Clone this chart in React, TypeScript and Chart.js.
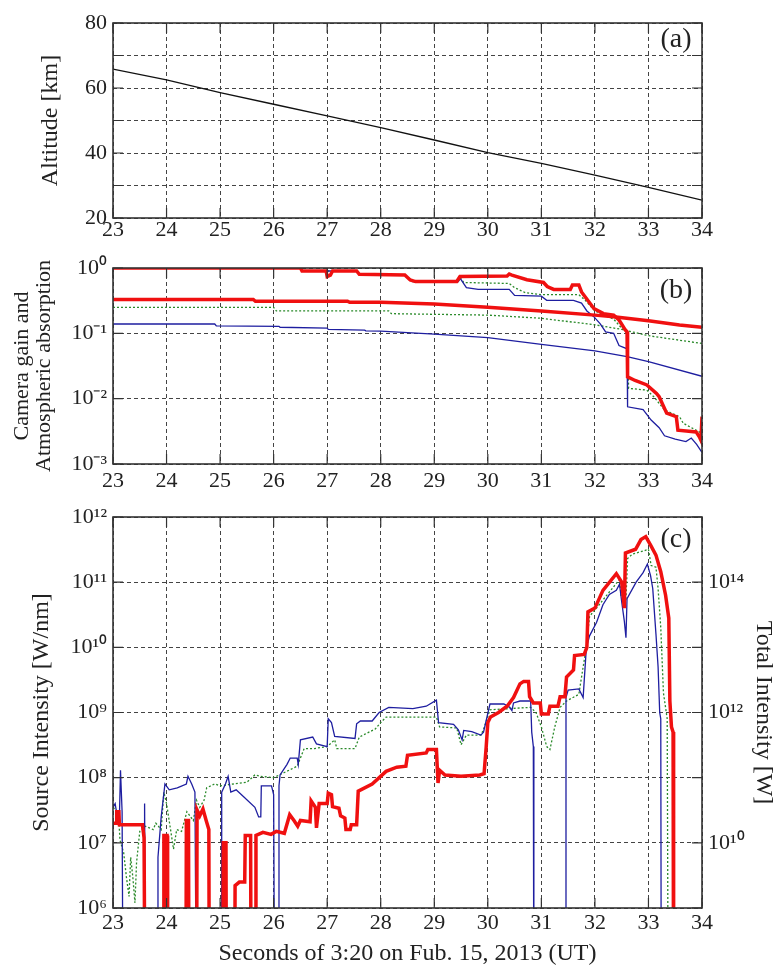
import React, { useEffect, useRef } from 'react';
import { Chart, registerables } from 'chart.js';

Chart.register(...registerables);

const FONT = '"Liberation Serif", "Times New Roman", serif';
const TEXT = '#222';

// ---------- shared x axis ----------
const xTickValues = [23, 24, 25, 26, 27, 28, 29, 30, 31, 32, 33, 34];
const xTitle = 'Seconds of 3:20 on Fub. 15, 2013 (UT)';

// ---------- panel (a) ----------
const altTime = [23, 24, 25, 26, 27, 28, 29, 30, 31, 32, 33, 34];
const altitudeKm = [65.8, 62.5, 58.6, 55.0, 51.4, 47.8, 44.0, 40.1, 36.8, 33.2, 29.4, 25.5];
const altTickValues = [20, 30, 40, 50, 60, 70, 80];
const altTickLabels = ['20', '', '40', '', '60', '', '80'];

// ---------- panel (b) ----------
const bTickValues = [1e-3, 1e-2, 1e-1, 1];
const bTickLabels = ['10⁻³', '10⁻²', '10⁻¹', '10⁰'];

const redGainT = [23, 26.5, 26.53, 26.98, 27.0, 27.06, 27.1, 27.55, 27.6, 28.45, 28.55, 28.65, 29.42, 29.48, 30.36, 30.4, 30.45, 30.73, 31.04, 31.11, 31.23, 31.54, 31.58, 31.7, 31.75, 31.82, 31.98, 32.16, 32.35, 32.45, 32.57, 32.6, 32.61, 32.75, 32.97, 33.15, 33.2, 33.34, 33.52, 33.55, 33.89, 33.95, 33.98, 34.0];
const redGainV = [1.0, 1.0, 0.9, 0.9, 0.74, 0.78, 0.9, 0.9, 0.8, 0.78, 0.655, 0.62, 0.62, 0.74, 0.755, 0.81, 0.78, 0.66, 0.6, 0.52, 0.47, 0.47, 0.55, 0.55, 0.43, 0.36, 0.24, 0.2, 0.19, 0.16, 0.112, 0.106, 0.0216, 0.019, 0.0162, 0.012, 0.0107, 0.006, 0.0053, 0.0033, 0.0031, 0.0026, 0.0023, 0.0053];

const blueGainT = [23, 26.5, 26.53, 27.55, 27.6, 28.45, 28.6, 29.45, 29.48, 29.6, 29.82, 30.4, 30.5, 31.0, 31.1, 31.6, 31.75, 31.85, 31.98, 32.1, 32.2, 32.35, 32.45, 32.6, 32.61, 32.9, 33.05, 33.2, 33.3, 33.5, 33.7, 33.8, 33.9, 34.0];
const blueGainV = [1.0, 1.0, 0.9, 0.9, 0.8, 0.78, 0.62, 0.62, 0.7, 0.5, 0.47, 0.47, 0.38, 0.37, 0.32, 0.32, 0.29, 0.22, 0.18, 0.14, 0.105, 0.1, 0.065, 0.058, 0.0075, 0.0068, 0.0047, 0.0036, 0.0027, 0.0024, 0.0022, 0.0025, 0.002, 0.0015];

const greenGainT = [23, 26.5, 26.53, 27.55, 27.6, 28.45, 28.6, 29.45, 29.48, 29.55, 30.4, 30.5, 30.7, 31.0, 31.7, 31.82, 32.0, 32.16, 32.35, 32.5, 32.6, 32.63, 32.97, 33.1, 33.3, 33.58, 33.65, 33.95, 34.0];
const greenGainV = [1.0, 1.0, 0.9, 0.9, 0.8, 0.78, 0.62, 0.62, 0.72, 0.6, 0.58, 0.5, 0.42, 0.39, 0.39, 0.32, 0.22, 0.19, 0.165, 0.12, 0.1, 0.0144, 0.0135, 0.0107, 0.0067, 0.0053, 0.0042, 0.0031, 0.0029];

const redAtmT = [23, 25.62, 25.66, 27.38, 27.42, 28, 29, 30, 31, 32, 32.35, 33, 33.58, 34];
const redAtmV = [0.33, 0.33, 0.31, 0.31, 0.298, 0.3, 0.28, 0.25, 0.22, 0.19, 0.18, 0.156, 0.134, 0.124];

const blueAtmT = [23, 24.9, 24.93, 26.1, 26.12, 27.0, 27.02, 27.7, 27.72, 28, 29, 30, 31, 32, 32.6, 33, 34];
const blueAtmV = [0.139, 0.139, 0.13, 0.128, 0.124, 0.12, 0.115, 0.112, 0.109, 0.108, 0.097, 0.086, 0.068, 0.054, 0.044, 0.037, 0.022];

const greenAtmT = [23, 26.0, 26.05, 28.15, 28.2, 30, 31, 32, 32.5, 33, 34];
const greenAtmV = [0.25, 0.25, 0.22, 0.22, 0.2, 0.19, 0.17, 0.135, 0.115, 0.092, 0.07];

// ---------- panel (c) ----------
const cTickValues = [1e6, 1e7, 1e8, 1e9, 1e10, 1e11, 1e12];
const cTickLabels = ['10⁶', '10⁷', '10⁸', '10⁹', '10¹⁰', '10¹¹', '10¹²'];
const totalTickValues = [1e10, 1e12, 1e14];
const totalTickLabels = ['10¹⁰', '10¹²', '10¹⁴'];

const redSrcT = [23.0, 23.06, 23.07, 23.11, 23.12, 23.55, 23.58, 23.6, 23.94, 23.95, 24.01, 24.02, 24.36, 24.37, 24.41, 24.42, 24.56, 24.57, 24.62, 24.68, 24.74, 24.79, 24.8, 25.05, 25.06, 25.11, 25.12, 25.27, 25.28, 25.36, 25.46, 25.47, 25.57, 25.58, 25.66, 25.67, 25.8, 25.95, 26.05, 26.2, 26.3, 26.38, 26.45, 26.5, 26.68, 26.7, 26.78, 26.8, 26.85, 27.0, 27.02, 27.08, 27.1, 27.22, 27.25, 27.33, 27.35, 27.43, 27.45, 27.55, 27.58, 27.84, 28.1, 28.3, 28.47, 28.5, 28.85, 28.88, 29.04, 29.07, 29.1, 29.2, 29.5, 29.85, 29.93, 29.97, 30.0, 30.05, 30.2, 30.36, 30.48, 30.6, 30.67, 30.76, 30.78, 30.85, 30.98, 31.0, 31.13, 31.16, 31.31, 31.35, 31.44, 31.47, 31.6, 31.62, 31.8, 31.85, 31.87, 32.0, 32.15, 32.4, 32.5, 32.55, 32.57, 32.76, 32.86, 32.95, 33.04, 33.14, 33.23, 33.32, 33.38, 33.4, 33.43, 33.46, 33.47, 34.0];
const redSrcV = [2.0e7, 2.0e7, 3.0e7, 3.0e7, 1.9e7, 1.9e7, 1.2e7, 1e4, 1e4, 1.3e7, 1.3e7, 1e4, 1e4, 2.2e7, 2.2e7, 1e4, 1e4, 3.2e7, 2.6e7, 3.3e7, 2.2e7, 1.6e7, 1e4, 1e4, 1.0e7, 1.0e7, 1e4, 1e4, 2.2e6, 2.5e6, 2.5e6, 1.3e7, 1.3e7, 1e4, 1e4, 1.3e7, 1.45e7, 1.35e7, 1.5e7, 1.4e7, 2.7e7, 2.2e7, 1.8e7, 2.2e7, 2.1e7, 4.4e7, 3.5e7, 1.7e7, 4.0e7, 4.0e7, 5.8e7, 5.5e7, 3.6e7, 3.4e7, 2.6e7, 2.4e7, 1.6e7, 1.6e7, 1.9e7, 1.9e7, 6.2e7, 8.0e7, 1.25e8, 1.45e8, 1.5e8, 2.2e8, 2.4e8, 2.7e8, 2.7e8, 8.3e7, 1.3e8, 1.1e8, 1.05e8, 1.1e8, 1.15e8, 3e8, 7e8, 8.5e8, 1.0e9, 1.25e9, 1.7e9, 2.75e9, 3.0e9, 3.0e9, 1.75e9, 1.4e9, 1.4e9, 9.5e8, 9.5e8, 1.25e9, 1.25e9, 1.75e9, 1.75e9, 3.5e9, 4.5e9, 7.5e9, 7.8e9, 1.0e10, 3.5e10, 4.0e10, 7.5e10, 1.35e11, 1.0e11, 4.0e10, 2.8e11, 3.2e11, 4.5e11, 5.0e11, 3.7e11, 2.6e11, 1.45e11, 6.3e10, 2.8e10, 1.5e9, 6e8, 5e8, 1e4, 1e4];

const blueSrcT = [23.0, 23.04, 23.08, 23.12, 23.14, 23.17, 23.19, 23.58, 23.59, 23.61, 23.83, 23.84, 23.9, 23.97, 24.05, 24.2, 24.37, 24.4, 24.47, 24.53, 24.56, 25.02, 25.03, 25.1, 25.15, 25.2, 25.3, 25.45, 25.65, 25.72, 25.76, 25.77, 25.96, 26.0, 26.02, 26.09, 26.1, 26.12, 26.25, 26.31, 26.44, 26.46, 26.5, 26.73, 26.8, 27.0, 27.02, 27.08, 27.14, 27.52, 27.55, 27.62, 27.84, 27.97, 28.15, 28.6, 28.85, 29.04, 29.08, 29.36, 29.45, 29.52, 29.55, 29.7, 29.87, 29.92, 30.04, 30.3, 30.41, 30.45, 30.48, 30.6, 30.8, 30.82, 30.85, 30.86, 31.45, 31.46, 31.5, 31.7, 31.78, 31.84, 31.9, 32.03, 32.15, 32.27, 32.4, 32.46, 32.5, 32.55, 32.58, 32.6, 32.77, 32.9, 32.98, 33.04, 33.08, 33.14, 33.18, 33.21, 33.23, 33.24, 34.0];
const blueSrcV = [3.5e7, 4.0e7, 2.5e7, 2.5e7, 1.3e8, 3e7, 1e4, 1e4, 4e7, 1e4, 1e4, 6e6, 2.5e7, 8e7, 6.5e7, 7e7, 8e7, 1.05e8, 8e7, 6e7, 1e4, 1e4, 6e7, 8e7, 1.05e8, 6e7, 6.5e7, 5e7, 3.5e7, 2.5e7, 2.5e7, 7.5e7, 7.5e7, 5.5e7, 1e4, 1e4, 7.5e7, 1.1e8, 1.6e8, 2e8, 2e8, 1.6e8, 3.8e8, 4.2e8, 3.3e8, 3.0e8, 8e8, 7e8, 4.3e8, 4.0e8, 6.7e8, 7.4e8, 7.4e8, 1.0e9, 1.2e9, 1.15e9, 1.25e9, 1.55e9, 7e8, 6.6e8, 5.4e8, 3.8e8, 5.3e8, 5.1e8, 4.5e8, 5e8, 1.35e9, 1.35e9, 1.2e9, 1.07e9, 1.4e9, 1.5e9, 1.5e9, 5e8, 3e8, 1e4, 1e4, 1.7e9, 2.2e9, 2.3e9, 1.7e9, 9.8e9, 1.5e10, 2.4e10, 4.5e10, 6.5e10, 7.5e10, 9.3e10, 5e10, 2.5e10, 1.4e10, 5.6e10, 1.0e11, 1.4e11, 1.9e11, 1.25e11, 8e10, 1.6e10, 5e9, 1e9, 8e8, 1e4, 1e4];

const greenSrcT = [23.0, 23.1, 23.13, 23.2, 23.25, 23.3, 23.33, 23.37, 23.41, 23.44, 23.5, 23.6, 23.75, 23.8, 23.9, 23.95, 24.0, 24.08, 24.13, 24.19, 24.28, 24.38, 24.5, 24.56, 24.62, 24.7, 24.75, 24.9, 25.0, 25.25, 25.5, 25.65, 25.75, 26.0, 26.2, 26.44, 26.5, 26.57, 26.76, 27.0, 27.14, 27.18, 27.52, 27.6, 27.9, 28.0, 28.1, 29.04, 29.1, 29.42, 29.5, 29.6, 29.87, 29.92, 30.04, 30.8, 30.9, 31.0, 31.1, 31.16, 31.25, 31.35, 31.47, 31.7, 31.78, 31.84, 31.9, 32.03, 32.2, 32.46, 32.49, 32.58, 32.61, 32.7, 32.9, 33.0, 33.05, 33.14, 33.18, 33.23, 33.28, 33.35, 33.37, 34.0];
const greenSrcV = [3.5e7, 3e7, 1.1e7, 7e6, 3e6, 1.5e6, 6e6, 3e6, 1.2e6, 5e6, 1.5e7, 1.8e7, 1.6e7, 2e7, 1.6e7, 6e7, 4e7, 1.5e7, 8e6, 1.6e7, 1.5e7, 3e7, 2.2e7, 4.5e7, 3.5e7, 4.5e7, 7e7, 8e7, 7.5e7, 8e7, 8.5e7, 1.1e8, 1.05e8, 1.0e8, 1.2e8, 1.5e8, 2e8, 2.8e8, 2.8e8, 3.0e8, 3.8e8, 2.8e8, 2.8e8, 4.2e8, 5.6e8, 7e8, 8.5e8, 8.5e8, 6e8, 5.8e8, 3.2e8, 4.5e8, 4.5e8, 5.5e8, 1.1e9, 1.2e9, 1.0e9, 6e8, 3e8, 2.7e8, 6e8, 1.2e9, 1.5e9, 1.9e9, 5e9, 1.0e10, 3.0e10, 4e10, 6e10, 1.1e11, 6e10, 5.5e10, 2.3e11, 2.7e11, 3.0e11, 3.2e11, 1.8e11, 1.7e11, 8e10, 2e10, 2e9, 8e8, 1e4, 1e4];

// ---------- helpers ----------
const zip = (t: number[], v: number[]) => t.map((x, i) => ({ x, y: v[i] }));

const RED = '#f01010';
const BLUE = '#1e1ea0';
const GREEN = '#2a8a2a';

const framePlugin = {
  id: 'frame',
  afterDraw(chart: any, _args: any, opts: any) {
    const { ctx, chartArea } = chart;
    const { left, right, top, bottom } = chartArea;
    const xs = chart.scales.x;
    const ys = chart.scales.y;
    ctx.save();
    ctx.setLineDash([]);
    ctx.strokeStyle = '#333';
    ctx.lineWidth = 1.2;
    ctx.beginPath();
    for (const t of xs.ticks) {
      const px = xs.getPixelForValue(t.value);
      ctx.moveTo(px, bottom);
      ctx.lineTo(px, bottom - 10);
      ctx.moveTo(px, top);
      ctx.lineTo(px, top + 10);
    }
    for (const t of ys.ticks) {
      const py = ys.getPixelForValue(t.value);
      ctx.moveTo(left, py);
      ctx.lineTo(left + 10, py);
      ctx.moveTo(right, py);
      ctx.lineTo(right - 10, py);
    }
    ctx.stroke();
    ctx.lineWidth = 1.6;
    ctx.strokeRect(left, top, right - left, bottom - top);
    if (opts && opts.label) {
      ctx.fillStyle = TEXT;
      ctx.font = `28px ${FONT}`;
      ctx.textAlign = 'center';
      ctx.textBaseline = 'middle';
      ctx.fillText(opts.label, right - 26, top + opts.dy);
    }
    ctx.restore();
  },
};

const gridOpts = { color: '#444', lineWidth: 1, drawTicks: false };
const borderOpts = { display: false, dash: [4, 3] };

function xScale(height: number, pad: number, title?: string) {
  return {
    type: 'linear',
    position: 'bottom',
    min: 23,
    max: 34,
    afterBuildTicks: (s: any) => {
      s.ticks = xTickValues.map((v) => ({ value: v }));
    },
    afterFit: (s: any) => {
      s.height = height;
    },
    ticks: {
      autoSkip: false,
      maxRotation: 0,
      minRotation: 0,
      padding: pad,
      color: TEXT,
      font: { family: FONT, size: 22, lineHeight: 1.0 },
      callback: (v: number) => String(v),
    },
    grid: gridOpts,
    border: borderOpts,
    title: title
      ? {
          display: true,
          text: title,
          color: TEXT,
          font: { family: FONT, size: 24, lineHeight: 1.2 },
          padding: { top: 0, bottom: 0 },
        }
      : { display: false },
  };
}

function yScale(opts: any) {
  const { type, min, max, values, labels, width, title, titlePad, titleSize, titleLH, position, grid } = opts;
  return {
    type,
    position,
    min,
    max,
    afterBuildTicks: (s: any) => {
      s.ticks = values.map((v: number) => ({ value: v }));
    },
    afterFit: (s: any) => {
      s.width = width;
    },
    ticks: {
      autoSkip: false,
      padding: 6,
      color: TEXT,
      font: { family: FONT, size: 22, lineHeight: 1.0 },
      callback: (v: number) => {
        const i = values.indexOf(v);
        return i >= 0 ? labels[i] : '';
      },
    },
    grid: grid === false ? { display: false, drawTicks: false } : gridOpts,
    border: borderOpts,
    title: {
      display: true,
      text: title,
      color: TEXT,
      font: { family: FONT, size: titleSize, lineHeight: titleLH },
      padding: { top: titlePad, bottom: 0 },
    },
  };
}

const line = (data: any[], color: string, width: number, dash?: number[]) => ({
  data,
  borderColor: color,
  backgroundColor: color,
  borderWidth: width,
  borderDash: dash || [],
  pointRadius: 0,
  fill: false,
  tension: 0,
});

const baseOptions = (padding: any) => ({
  responsive: false,
  animation: false,
  events: [],
  layout: { padding },
  plugins: { legend: { display: false }, tooltip: { enabled: false } },
});

function configA(): any {
  return {
    type: 'line',
    data: { datasets: [line(zip(altTime, altitudeKm), '#111', 1.3)] },
    options: {
      ...baseOptions({ left: 0, right: 74, top: 23, bottom: 0 }),
      plugins: { legend: { display: false }, tooltip: { enabled: false }, frame: { label: '(a)', dy: 17 } },
      scales: {
        x: xScale(32, 1.5),
        y: yScale({
          type: 'linear', min: 20, max: 80, values: altTickValues, labels: altTickLabels,
          width: 113, title: 'Altitude [km]', titlePad: 36, titleSize: 24, titleLH: 1.2, position: 'left',
        }),
      },
    },
    plugins: [framePlugin],
  };
}

function configB(): any {
  return {
    type: 'line',
    data: {
      datasets: [
        line(zip(redGainT, redGainV), RED, 3.5),
        line(zip(redAtmT, redAtmV), RED, 3.5),
        line(zip(blueGainT, blueGainV), BLUE, 1.3),
        line(zip(blueAtmT, blueAtmV), BLUE, 1.3),
        line(zip(greenGainT, greenGainV), GREEN, 1.3, [2, 2]),
        line(zip(greenAtmT, greenAtmV), GREEN, 1.3, [2, 2]),
      ],
    },
    options: {
      ...baseOptions({ left: 0, right: 74, top: 18, bottom: 0 }),
      plugins: { legend: { display: false }, tooltip: { enabled: false }, frame: { label: '(b)', dy: 23 } },
      scales: {
        x: xScale(36, 6),
        y: yScale({
          type: 'logarithmic', min: 1e-3, max: 1, values: bTickValues, labels: bTickLabels,
          width: 113, title: ['Camera gain and', 'Atmospheric absorption'], titlePad: 11, titleSize: 22, titleLH: 1.0,
          position: 'left',
        }),
      },
    },
    plugins: [framePlugin],
  };
}

function configC(): any {
  return {
    type: 'line',
    data: {
      datasets: [
        line(zip(redSrcT, redSrcV), RED, 3.5),
        line(zip(blueSrcT, blueSrcV), BLUE, 1.3),
        line(zip(greenSrcT, greenSrcV), GREEN, 1.3, [2, 2]),
      ],
    },
    options: {
      ...baseOptions({ left: 0, right: 0, top: 14, bottom: 0 }),
      plugins: { legend: { display: false }, tooltip: { enabled: false }, frame: { label: '(c)', dy: 23 } },
      scales: {
        x: xScale(60, 4.5, xTitle),
        y: yScale({
          type: 'logarithmic', min: 1e6, max: 1e12, values: cTickValues, labels: cTickLabels,
          width: 113, title: 'Source Intensity [W/nm]', titlePad: 27, titleSize: 24, titleLH: 1.2, position: 'left',
        }),
        y2: yScale({
          type: 'logarithmic', min: 1e9, max: 1e15, values: totalTickValues, labels: totalTickLabels,
          width: 74, title: 'Total Intensity [W]', titlePad: 0, titleSize: 24, titleLH: 1.1, position: 'right',
          grid: false,
        }),
      },
    },
    plugins: [framePlugin],
  };
}

export default function App() {
  const refA = useRef<HTMLCanvasElement>(null);
  const refB = useRef<HTMLCanvasElement>(null);
  const refC = useRef<HTMLCanvasElement>(null);

  useEffect(() => {
    const charts = [
      new Chart(refA.current as HTMLCanvasElement, configA()),
      new Chart(refB.current as HTMLCanvasElement, configB()),
      new Chart(refC.current as HTMLCanvasElement, configC()),
    ];
    return () => charts.forEach((c) => c.destroy());
  }, []);

  return (
    <div style={{ position: 'absolute', left: 0, top: 0, width: 776, height: 968, background: '#fff' }}>
      <canvas ref={refA} width={776} height={250} style={{ position: 'absolute', left: 0, top: 0 }} />
      <canvas ref={refB} width={776} height={250} style={{ position: 'absolute', left: 0, top: 250 }} />
      <canvas ref={refC} width={776} height={468} style={{ position: 'absolute', left: 0, top: 500 }} />
    </div>
  );
}
